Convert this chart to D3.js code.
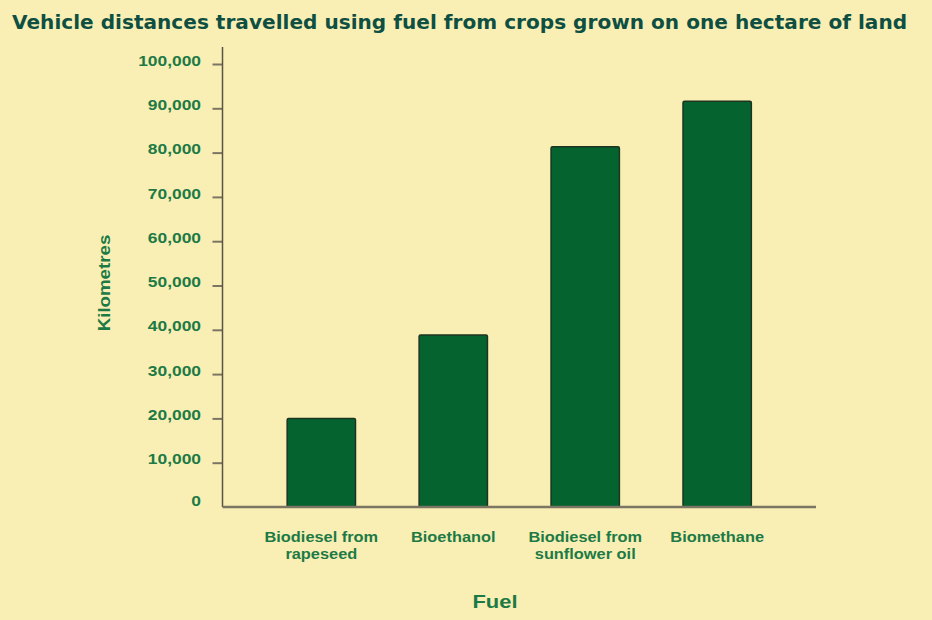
<!DOCTYPE html>
<html>
<head>
<meta charset="utf-8">
<script src="https://cdn.jsdelivr.net/npm/d3@7"></script>
<style>
  html, body { margin: 0; padding: 0; background: #f9efb5; }
  svg { display: block; }
</style>
</head>
<body>
<svg id="chart" width="932" height="620"></svg>
<script>
const categories = [["Biodiesel from", "rapeseed"], ["Bioethanol"], ["Biodiesel from", "sunflower oil"], ["Biomethane"]];
const values = [20000, 38800, 81300, 91600];
const yTicks = [0, 10000, 20000, 30000, 40000, 50000, 60000, 70000, 80000, 90000, 100000];
const titleText = "Vehicle distances travelled using fuel from crops grown on one hectare of land";
const yLabel = "Kilometres";
const xLabel = "Fuel";

const svg = d3.select("#chart");
const W = 932, H = 620;
svg.append("rect").attr("width", W).attr("height", H).attr("fill", "#f9efb5");

const x0 = 222.5, x1 = 816, y0 = 507, yTop = 47;
const keys = categories.map(c => c.join(" "));
const x = d3.scaleBand().domain(keys).range([x0, x1]).paddingInner(0.482).paddingOuter(0.49);
const y = d3.scaleLinear().domain([0, 100000]).range([y0, 64]);

const labelColor = "#1d7a45";
const axisColor = "#7d7563";
const ARIAL = "Arial, 'Liberation Sans', sans-serif";
const SX = 1.17; // horizontal stretch seen in the reference text

// title
svg.append("text")
  .attr("transform", "translate(12,29) scale(1.058,1)")
  .attr("font-family", "'DejaVu Sans', Verdana, sans-serif")
  .attr("font-weight", "bold")
  .attr("font-size", 19)
  .attr("fill", "#0f4f42")
  .text(titleText);

// bars
svg.append("g").selectAll("rect").data(values).join("rect")
  .attr("x", (d, i) => x(keys[i]))
  .attr("width", x.bandwidth())
  .attr("y", d => y(d))
  .attr("height", d => y0 - y(d))
  .attr("rx", 1.5)
  .attr("fill", "#04632f")
  .attr("stroke", "#1c3520")
  .attr("stroke-width", 1.5);

// y axis
const yAxis = d3.axisLeft(y).tickValues(yTicks)
  .tickFormat(d => d3.format(",")(d)).tickSize(10).tickPadding(10);
const gy = svg.append("g").attr("transform", `translate(${x0},0)`).call(yAxis);
gy.select(".domain").remove();
gy.selectAll(".tick line").attr("stroke", axisColor).attr("stroke-width", 2);
gy.selectAll(".tick").filter(d => d === 0).select("line").remove();
gy.selectAll(".tick text")
  .attr("x", 0).attr("dy", "0.32em")
  .attr("transform", d => `translate(-21.5,${d === 0 ? -6 : -3.5}) scale(1.2,1)`)
  .attr("font-family", ARIAL)
  .attr("font-weight", "bold")
  .attr("font-size", 14.5)
  .attr("fill", labelColor);

svg.append("line").attr("x1", x0).attr("x2", x0).attr("y1", yTop).attr("y2", y0)
  .attr("stroke", "#5a5443").attr("stroke-width", 1.5);
svg.append("line").attr("x1", x0).attr("x2", x1).attr("y1", y0).attr("y2", y0)
  .attr("stroke", axisColor).attr("stroke-width", 2.5);

// x labels
const xl = svg.append("g").selectAll("text").data(categories).join("text")
  .attr("transform", (d, i) => `translate(${x(keys[i]) + x.bandwidth() / 2},542) scale(${SX},1)`)
  .attr("text-anchor", "middle")
  .attr("font-family", ARIAL)
  .attr("font-weight", "bold")
  .attr("font-size", 14)
  .attr("fill", labelColor);
xl.selectAll("tspan").data(d => d).join("tspan")
  .attr("x", 0)
  .attr("dy", (d, i) => i === 0 ? 0 : 17)
  .text(d => d);

// axis titles
svg.append("text")
  .attr("transform", "translate(495,608) scale(1.22,1)")
  .attr("text-anchor", "middle")
  .attr("font-family", ARIAL)
  .attr("font-weight", "bold")
  .attr("font-size", 18)
  .attr("fill", labelColor)
  .text(xLabel);

svg.append("text")
  .attr("transform", "translate(110,283) rotate(-90) scale(1.1,1)")
  .attr("text-anchor", "middle")
  .attr("font-family", ARIAL)
  .attr("font-weight", "bold")
  .attr("font-size", 17)
  .attr("fill", labelColor)
  .text(yLabel);
</script>
</body>
</html>
